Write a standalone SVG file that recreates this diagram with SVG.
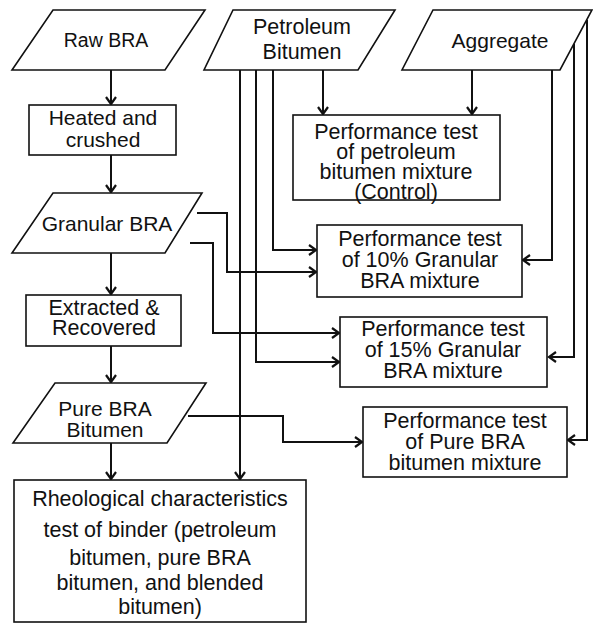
<svg xmlns="http://www.w3.org/2000/svg" width="593" height="626" viewBox="0 0 593 626">
<style>
.n{fill:#fff;stroke:#111;stroke-width:1.6}
.t{font-family:"Liberation Sans",Arial,sans-serif;font-size:21px;fill:#111;text-anchor:middle;dominant-baseline:central}
.p{font-size:21.5px}
.c{fill:none;stroke:#111;stroke-width:2}
</style>
<defs>
<marker id="a" markerUnits="userSpaceOnUse" markerWidth="14" markerHeight="14" viewBox="-9 -7 11 14" refX="0" refY="0" orient="auto">
<path d="M-7,-5 L0,0 L-7,5" fill="none" stroke="#111" stroke-width="2.2"/>
</marker>
</defs>
<rect width="593" height="626" fill="#fff"/>
<g id="connectors">
<path class="c" marker-end="url(#a)" d="M111,70 V104"/>
<path class="c" marker-end="url(#a)" d="M111,155 V192"/>
<path class="c" marker-end="url(#a)" d="M111,253 V294"/>
<path class="c" marker-end="url(#a)" d="M111,346 V382"/>
<path class="c" marker-end="url(#a)" d="M111,443 V479"/>
<path class="c" marker-end="url(#a)" d="M323,70 V114"/>
<path class="c" marker-end="url(#a)" d="M472,70 V114"/>
<path class="c" marker-end="url(#a)" d="M240,70 V479"/>
<path class="c" marker-end="url(#a)" d="M273,70 V250 H316"/>
<path class="c" marker-end="url(#a)" d="M256,70 V362 H339"/>
<path class="c" marker-end="url(#a)" d="M197,213 H227 V272 H316"/>
<path class="c" marker-end="url(#a)" d="M190,243 H213 V333 H339"/>
<path class="c" marker-end="url(#a)" d="M188,416 H283 V442 H362"/>
<path class="c" marker-end="url(#a)" d="M552,70 V260 H523"/>
<path class="c" marker-end="url(#a)" d="M574,44 V357 H549"/>
<path class="c" marker-end="url(#a)" d="M587,20 V440 H568"/>
</g>
<g id="raw-bra">
<polygon class="n" points="53,10 205,10 165,70 12,70"/>
<text class="t" x="106" y="40" style="font-size:19.5px">Raw BRA</text>
</g>
<g id="petroleum-bitumen">
<polygon class="n" points="233,10 395,10 358,70 204,70"/>
<text class="t p" x="302" y="27">Petroleum</text>
<text class="t p" x="302" y="52">Bitumen</text>
</g>
<g id="aggregate">
<polygon class="n" points="433,10 592,10 560,70 402,70"/>
<text class="t" x="500" y="40">Aggregate</text>
</g>
<g id="heated-crushed">
<rect class="n" x="29" y="105" width="147" height="50"/>
<text class="t" x="103" y="117">Heated and</text>
<text class="t" x="103" y="139">crushed</text>
</g>
<g id="control">
<rect class="n" x="293" y="115" width="207" height="85"/>
<text class="t p" x="396" y="132">Performance test</text>
<text class="t p" x="396" y="152">of petroleum</text>
<text class="t p" x="396" y="172">bitumen mixture</text>
<text class="t p" x="396" y="192">(Control)</text>
</g>
<g id="granular-bra">
<polygon class="n" points="53,193 202,193 165,253 12,253"/>
<text class="t" x="107" y="223">Granular BRA</text>
</g>
<g id="mix-10">
<rect class="n" x="317" y="225" width="205" height="72"/>
<text class="t p" x="420" y="239">Performance test</text>
<text class="t p" x="420" y="260">of 10% Granular</text>
<text class="t p" x="420" y="281">BRA mixture</text>
</g>
<g id="extracted-recovered">
<rect class="n" x="26" y="295" width="155" height="51"/>
<text class="t p" x="104" y="308">Extracted &amp;</text>
<text class="t p" x="104" y="328">Recovered</text>
</g>
<g id="mix-15">
<rect class="n" x="340" y="317" width="207" height="70"/>
<text class="t p" x="443" y="329">Performance test</text>
<text class="t p" x="443" y="350">of 15% Granular</text>
<text class="t p" x="443" y="371">BRA mixture</text>
</g>
<g id="pure-bra-bitumen">
<polygon class="n" points="55,383 206,383 167,443 13,443"/>
<text class="t" x="105" y="408">Pure BRA</text>
<text class="t" x="105" y="429">Bitumen</text>
</g>
<g id="mix-pure">
<rect class="n" x="363" y="407" width="204" height="70"/>
<text class="t p" x="465" y="421">Performance test</text>
<text class="t p" x="465" y="442">of Pure BRA</text>
<text class="t p" x="465" y="463">bitumen mixture</text>
</g>
<g id="rheological">
<rect class="n" x="14" y="480" width="292" height="142"/>
<text class="t p" x="160" y="499">Rheological characteristics</text>
<text class="t p" x="160" y="530">test of binder (petroleum</text>
<text class="t p" x="160" y="558">bitumen, pure BRA</text>
<text class="t p" x="160" y="583">bitumen, and blended</text>
<text class="t p" x="160" y="607">bitumen)</text>
</g>
</svg>
